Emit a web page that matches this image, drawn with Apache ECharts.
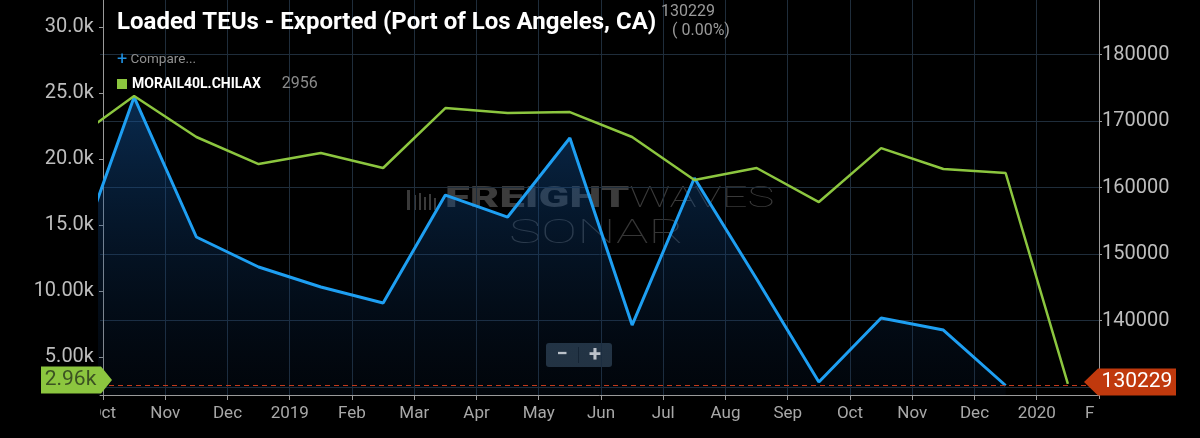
<!DOCTYPE html>
<html><head><meta charset="utf-8">
<script src="https://cdn.jsdelivr.net/npm/echarts@6/dist/echarts.min.js"></script>
<style>html,body{margin:0;padding:0;background:#000;}#c{width:1200px;height:438px;}</style>
</head><body><div id="c"></div>
<script>
// ---- data ----
const months = ['2018-09','2018-10','2018-11','2018-12','2019-01','2019-02','2019-03','2019-04','2019-05','2019-06','2019-07','2019-08','2019-09','2019-10','2019-11','2019-12','2020-01'];
const loadedTEUs = [147370,173610,152560,148050,145040,142630,158870,155560,167440,139320,161430,146240,130750,140380,138570,130229,null];
const morail40l = [21360,24770,21670,19620,20450,19320,23860,23480,23560,21670,18410,19320,16740,20830,19240,18940,2956];
const xTickLabels = ['Oct','Nov','Dec','2019','Feb','Mar','Apr','May','Jun','Jul','Aug','Sep','Oct','Nov','Dec','2020','Feb'];
const leftTicks = [5000,10000,15000,20000,25000,30000];
const leftTickLabels = ['5.00k','10.00k','15.0k','20.0k','25.0k','30.0k'];
const rightTicks = [130000,140000,150000,160000,170000,180000];
const rightTickLabels = ['130000','140000','150000','160000','170000','180000'];
const titleText = 'Loaded TEUs - Exported (Port of Los Angeles, CA)';
const seriesName = 'MORAIL40L.CHILAX';

// month position on an even monthly axis (0 = start of Oct 2018), points at mid-month
const firstTick = '2018-10';
function monthPos(m) {
  const [y, mo] = m.split('-').map(Number);
  const [y0, m0] = firstTick.split('-').map(Number);
  return (y - y0) * 12 + (mo - m0) + 0.5;
}
const xMin = -0.048, xMax = xTickLabels.length - 1;
const teuData = months.map((m, i) => [monthPos(m), loadedTEUs[i]]);
const railData = months.map((m, i) => [monthPos(m), morail40l[i]]);
const lastTEU = loadedTEUs.filter(v => v != null).slice(-1)[0];
const lastRail = morail40l[morail40l.length - 1];

const chart = echarts.init(document.getElementById('c'));
const font = 'Roboto';
chart.setOption({
  backgroundColor: '#000',
  animation: false,
  textStyle: { fontFamily: font },
  title: {
    text: titleText, left: 112, top: 6,
    textStyle: { color: '#fff', fontSize: 24, fontWeight: 'bold', fontFamily: font }
  },
  legend: {
    data: [seriesName], left: 112, top: 71, selectedMode: false,
    icon: 'rect', itemWidth: 10, itemHeight: 10, itemGap: 6,
    formatter: n => n + '      {v|' + lastRail + '}',
    textStyle: { color: '#fff', fontSize: 14, fontWeight: 'bold', fontFamily: font,
      rich: { v: { color: '#8a8a8a', fontSize: 16, fontWeight: 'normal', fontFamily: font } } }
  },
  grid: { left: 100, right: 101, top: 0, bottom: 43 },
  xAxis: {
    type: 'value', min: xMin, max: xMax,
    axisLine: { show: true, lineStyle: { color: '#9a9a9a', width: 1 } },
    axisTick: { show: true, length: 5, customValues: xTickLabels.map((_, i) => i), lineStyle: { color: '#9a9a9a' } },
    axisLabel: { customValues: xTickLabels.map((_, i) => i), formatter: v => xTickLabels[Math.round(v)],
      color: '#a8a8a8', fontSize: 17, margin: 10, fontFamily: font },
    splitLine: { show: true, lineStyle: { color: '#1f2d3b', width: 1 } }
  },
  yAxis: [
    { type: 'value', position: 'left', min: 2120, max: 32050,
      axisLine: { show: true, lineStyle: { color: '#9a9a9a' } },
      axisTick: { show: true, length: 4, customValues: leftTicks, lineStyle: { color: '#9a9a9a' } },
      axisLabel: { customValues: leftTicks, formatter: v => leftTickLabels[leftTicks.indexOf(v)],
        color: '#bdbdbd', fontSize: 20, margin: 6, fontFamily: font },
      splitLine: { show: false } },
    { type: 'value', position: 'right', min: 128800, max: 188200,
      axisLine: { show: true, lineStyle: { color: '#9a9a9a' } },
      axisTick: { show: true, length: 3, customValues: rightTicks, lineStyle: { color: '#9a9a9a' } },
      axisLabel: { customValues: rightTicks.slice(1), formatter: v => rightTickLabels[rightTicks.indexOf(v)],
        color: '#bdbdbd', fontSize: 20, margin: 3, fontFamily: font },
      splitLine: { show: true, lineStyle: { color: '#1f2d3b', width: 1 } } }
  ],
  series: [
    { name: titleText, type: 'line', yAxisIndex: 1, data: teuData, showSymbol: false, z: 3,
      lineStyle: { color: '#1e9ff2', width: 3 }, itemStyle: { color: '#1e9ff2' },
      areaStyle: { color: new echarts.graphic.LinearGradient(0, 0, 0, 1, [
        { offset: 0, color: 'rgba(20,92,170,0.66)' }, { offset: 1, color: 'rgba(10,40,80,0.18)' }]) },
      markLine: { silent: true, symbol: 'none', label: { show: false },
        lineStyle: { color: '#c23a1c', width: 1, type: [5, 4], opacity: 1 },
        data: [{ yAxis: lastTEU }] },
      markPoint: { silent: true,
        symbol: 'path://M0,13.5 L14,0 L92,0 L92,27 L14,27 Z', symbolSize: [92, 27], symbolOffset: [31, -3.5],
        itemStyle: { color: '#c0390d' },
        label: { show: true, position: 'inside', offset: [7, 0], formatter: String(lastTEU),
          color: '#fff', fontSize: 21, fontFamily: font },
        data: [{ coord: [xMax, lastTEU] }] } },
    { name: seriesName, type: 'line', yAxisIndex: 0, data: railData, showSymbol: false, z: 4,
      lineStyle: { color: '#8cc63f', width: 2.5 }, itemStyle: { color: '#8cc63f' },
      markPoint: { silent: true,
        symbol: 'path://M0,0 L60,0 L71,13 L60,26 L0,26 Z', symbolSize: [71, 27], symbolOffset: [-23.5, -4],
        itemStyle: { color: '#8cc63f' },
        label: { show: true, position: 'inside', offset: [-6, 0], formatter: (lastRail / 1000).toFixed(2) + 'k',
          color: '#3b5222', fontSize: 21, fontFamily: font },
        data: [{ coord: [xMin, lastRail] }] } }
  ],
  graphic: [
    // mask clipped axis labels at the plot edges
    { type: 'rect', left: 0, top: 399, shape: { width: 100, height: 39 }, style: { fill: '#000' }, z: 100 },
    { type: 'rect', left: 1095, top: 399, shape: { width: 105, height: 39 }, style: { fill: '#000' }, z: 100 },
    // header texts
    { type: 'text', left: 661, top: 4, style: { text: '130229', fill: '#9a9a9a', font: '16px Roboto' }, z: 50 },
    { type: 'text', left: 672, top: 23, style: { text: '( 0.00%)', fill: '#9a9a9a', font: '16px Roboto' }, z: 50 },
    { type: 'text', left: 117, top: 51, style: { rich: { p: { fill: '#1e8fe0', font: '18px Roboto' }, c: { fill: '#8f8f8f', font: '13.5px Roboto' } }, text: '{p|+} {c|Compare...}' }, z: 50 },
    // watermark
    { type: 'group', x: 445, y: 185, scaleX: 1.62, scaleY: 1.05, z: 1, silent: true, children: [
      { type: 'text', x: 0, y: 0, style: { text: '{b|FREIGHT}{t|WAVES}', rich: {
        b: { fill: '#3c3c3c', font: '900 28px Roboto' }, t: { fill: '#3a3a3a', font: '100 28px Roboto' } } } }
    ] },
    { type: 'group', x: 509, y: 219, scaleX: 1.75, scaleY: 1.05, z: 1, silent: true, children: [
      { type: 'text', x: 0, y: 0, style: { text: 'SONAR', fill: '#363636', font: '100 31px Roboto' } }
    ] },
    { type: 'group', x: 407, y: 190, z: 1, silent: true, children: [
      { type: 'rect', shape: { x: 0, y: 0, width: 3, height: 20 }, style: { fill: '#3a3a3a' } },
      { type: 'rect', shape: { x: 7, y: 5, width: 2, height: 15 }, style: { fill: '#3a3a3a' } },
      { type: 'rect', shape: { x: 12, y: 3, width: 2, height: 17 }, style: { fill: '#3a3a3a' } },
      { type: 'rect', shape: { x: 17, y: 7, width: 2, height: 13 }, style: { fill: '#3a3a3a' } },
      { type: 'rect', shape: { x: 22, y: 4, width: 2, height: 16 }, style: { fill: '#3a3a3a' } },
      { type: 'rect', shape: { x: 27, y: 8, width: 2, height: 12 }, style: { fill: '#3a3a3a' } }
    ] },
    // zoom control
    { type: 'group', x: 546, y: 343, z: 60, children: [
      { type: 'rect', shape: { x: 0, y: 0, width: 66, height: 24, r: 3 }, style: { fill: '#27343f' } },
      { type: 'rect', shape: { x: 32, y: 4, width: 1, height: 16 }, style: { fill: '#17222c' } },
      { type: 'text', x: 16, y: 12, style: { text: '−', fill: '#e0e0e0', font: 'bold 20px Roboto', align: 'center', verticalAlign: 'middle' } },
      { type: 'text', x: 49, y: 12, style: { text: '+', fill: '#e0e0e0', font: 'bold 22px Roboto', align: 'center', verticalAlign: 'middle' } }
    ] }
  ]
});
</script></body></html>
